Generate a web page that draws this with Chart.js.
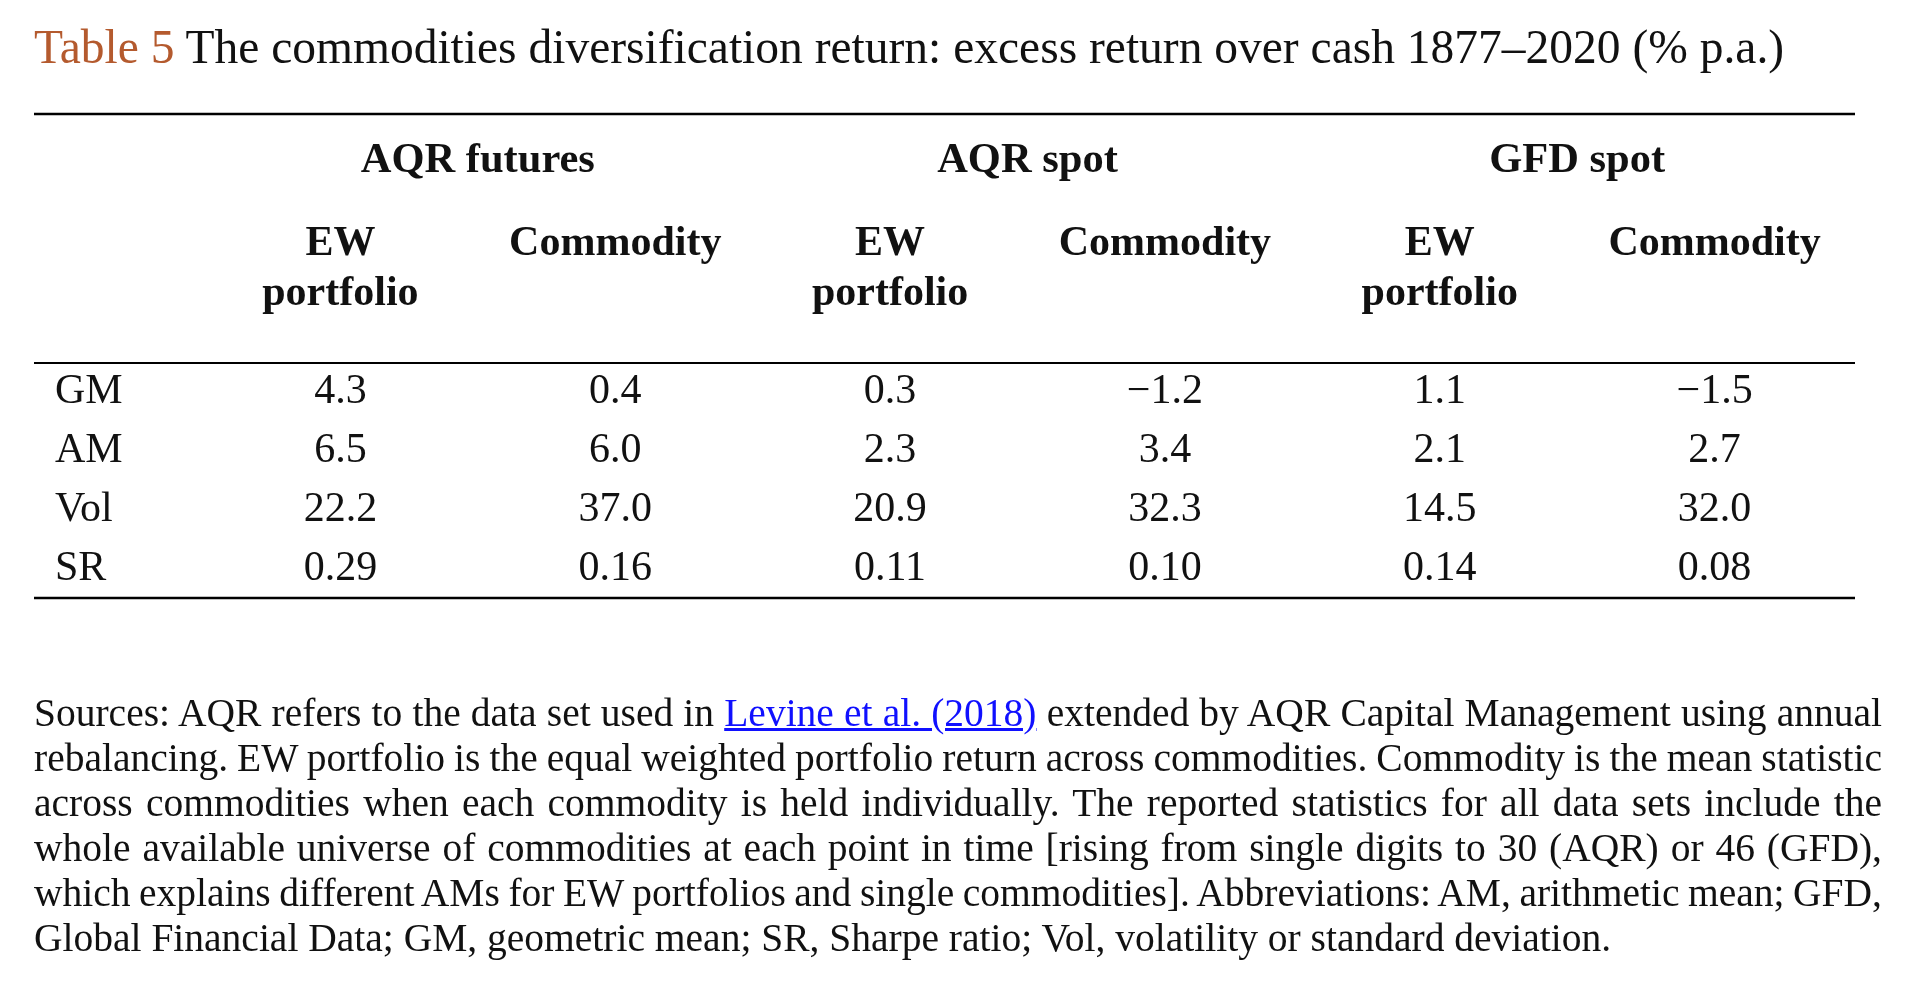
<!DOCTYPE html>
<html>
<head>
<meta charset="utf-8">
<title>Table 5 The commodities diversification return</title>
<script src="https://cdn.jsdelivr.net/npm/chart.js@4.4.1/dist/chart.umd.min.js"></script>
<style>
    html, body { margin: 0; padding: 0; background: #fff; }
    body {
        width: 1920px; height: 982px; position: relative; overflow: hidden;
        font-family: 'Liberation Serif', 'Times New Roman', serif; color: #111;
    }
    #title { position: absolute; left: 34px; top: 24px; font-size: 47.5px; line-height: 47.5px; white-space: nowrap; }
    #title .num { color: #b45a2e; }
    #chart-wrap { position: absolute; left: 0; top: 0; width: 1920px; height: 982px; }
    #notes { position: absolute; left: 34px; top: 691px; width: 1848px; font-size: 39.5px; line-height: 45px; }
    #notes div { text-align: justify; text-align-last: justify; white-space: nowrap; }
    #notes div.tight { word-spacing: -3px; }
    #notes div.last { text-align-last: left; }
    #notes a { color: #1010ff; text-decoration: underline; }
</style>
</head>
<body>
<div id="chart-wrap"><canvas id="ctx" width="1920" height="982"></canvas></div>
<div id="title"><span class="num">Table 5</span> The commodities diversification return: excess return over cash 1877–2020 (% p.a.)</div>
<div id="notes">
    <div>Sources: AQR refers to the data set used in <a href="#">Levine et al. (2018)</a> extended by AQR Capital Management using annual</div>
    <div class="tight">rebalancing. EW portfolio is the equal weighted portfolio return across commodities. Commodity is the mean statistic</div>
    <div>across commodities when each commodity is held individually. The reported statistics for all data sets include the</div>
    <div>whole available universe of commodities at each point in time [rising from single digits to 30 (AQR) or 46 (GFD),</div>
    <div class="tight">which explains different AMs for EW portfolios and single commodities]. Abbreviations: AM, arithmetic mean; GFD,</div>
    <div class="last">Global Financial Data; GM, geometric mean; SR, Sharpe ratio; Vol, volatility or standard deviation.</div>
</div>
<script>
// rows and columns of the table
const rowLabels = ['GM', 'AM', 'Vol', 'SR'];
const rowDecimals = [1, 1, 1, 2];
const groupLabels = ['AQR futures', 'AQR spot', 'GFD spot'];
const columnKeys = ['aqrFuturesEW', 'aqrFuturesCom', 'aqrSpotEW', 'aqrSpotCom', 'gfdSpotEW', 'gfdSpotCom'];
const columnHeaders = [['EW', 'portfolio'], ['Commodity'], ['EW', 'portfolio'], ['Commodity'], ['EW', 'portfolio'], ['Commodity']];

// values, one array per column (GM, AM, Vol, SR)
const aqrFuturesEW = [4.3, 6.5, 22.2, 0.29];
const aqrFuturesCommodity = [0.4, 6.0, 37.0, 0.16];
const aqrSpotEW = [0.3, 2.3, 20.9, 0.11];
const aqrSpotCommodity = [-1.2, 3.4, 32.3, 0.10];
const gfdSpotEW = [1.1, 2.1, 14.5, 0.14];
const gfdSpotCommodity = [-1.5, 2.7, 32.0, 0.08];

const columnValues = [aqrFuturesEW, aqrFuturesCommodity, aqrSpotEW, aqrSpotCommodity, gfdSpotEW, gfdSpotCommodity];

const FONT = '"Liberation Serif", "Times New Roman", serif';
const INK = '#111';

function fmt(v, d) {
    return v.toFixed(d).replace('-', '\u2212');
}

// draws rules, headers and cell values at the positions the scales give
const tablePlugin = {
    id: 'tableText',
    afterDatasetsDraw: function (chart) {
        let ctx = chart.ctx,
            area = chart.chartArea,
            xScale = chart.scales.x,
            left = 34,
            right = area.right + 3;

        ctx.save();
        ctx.strokeStyle = '#000';
        [[area.top - 249, 2.6], [area.top, 2], [area.bottom, 2.6]].forEach(function (r) {
            ctx.lineWidth = r[1];
            ctx.beginPath();
            ctx.moveTo(left, r[0]);
            ctx.lineTo(right, r[0]);
            ctx.stroke();
        });

        ctx.fillStyle = INK;
        ctx.textAlign = 'center';

        // group headers
        ctx.font = 'bold 42.5px ' + FONT;
        ctx.textBaseline = 'alphabetic';
        groupLabels.forEach(function (g, j) {
            let x = (xScale.getPixelForValue(2 * j) + xScale.getPixelForValue(2 * j + 1)) / 2;
            ctx.fillText(g, x, area.top - 191);
        });

        // column headers
        ctx.font = 'bold 42px ' + FONT;
        columnHeaders.forEach(function (lines, c) {
            let x = xScale.getPixelForValue(c);
            lines.forEach(function (line, k) {
                ctx.fillText(line, x, area.top - 108 + k * 50);
            });
        });

        // cell values
        ctx.font = '42px ' + FONT;
        ctx.textBaseline = 'middle';
        chart.data.datasets.forEach(function (ds, i) {
            chart.getDatasetMeta(i).data.forEach(function (pt, j) {
                ctx.fillText(fmt(ds.data[j].v, rowDecimals[j]), pt.x, pt.y);
            });
        });
        ctx.restore();
    }
};

const datasets = columnValues.map(function (values, c) {
    return {
        label: columnKeys[c],
        data: values.map(function (v, r) {
            return {x: columnKeys[c], y: rowLabels[r], v: v};
        }),
        pointRadius: 0,
        pointHoverRadius: 0
    };
});

new Chart(document.getElementById('ctx'), {
    type: 'scatter',
    data: {datasets: datasets},
    plugins: [tablePlugin],
    options: {
        responsive: false,
        animation: false,
        events: [],
        layout: {padding: {left: 55, right: 68, top: 363, bottom: 384}},
        plugins: {legend: {display: false}, tooltip: {enabled: false}, title: {display: false}},
        scales: {
            x: {
                type: 'category',
                labels: columnKeys,
                offset: true,
                display: false
            },
            y: {
                type: 'category',
                labels: rowLabels,
                offset: true,
                grid: {display: false},
                border: {display: false},
                ticks: {
                    crossAlign: 'far',
                    color: INK,
                    font: {family: FONT, size: 42}
                },
                afterFit: function (scale) {
                    scale.width = 148;
                }
            }
        }
    }
});
</script>
</body>
</html>
